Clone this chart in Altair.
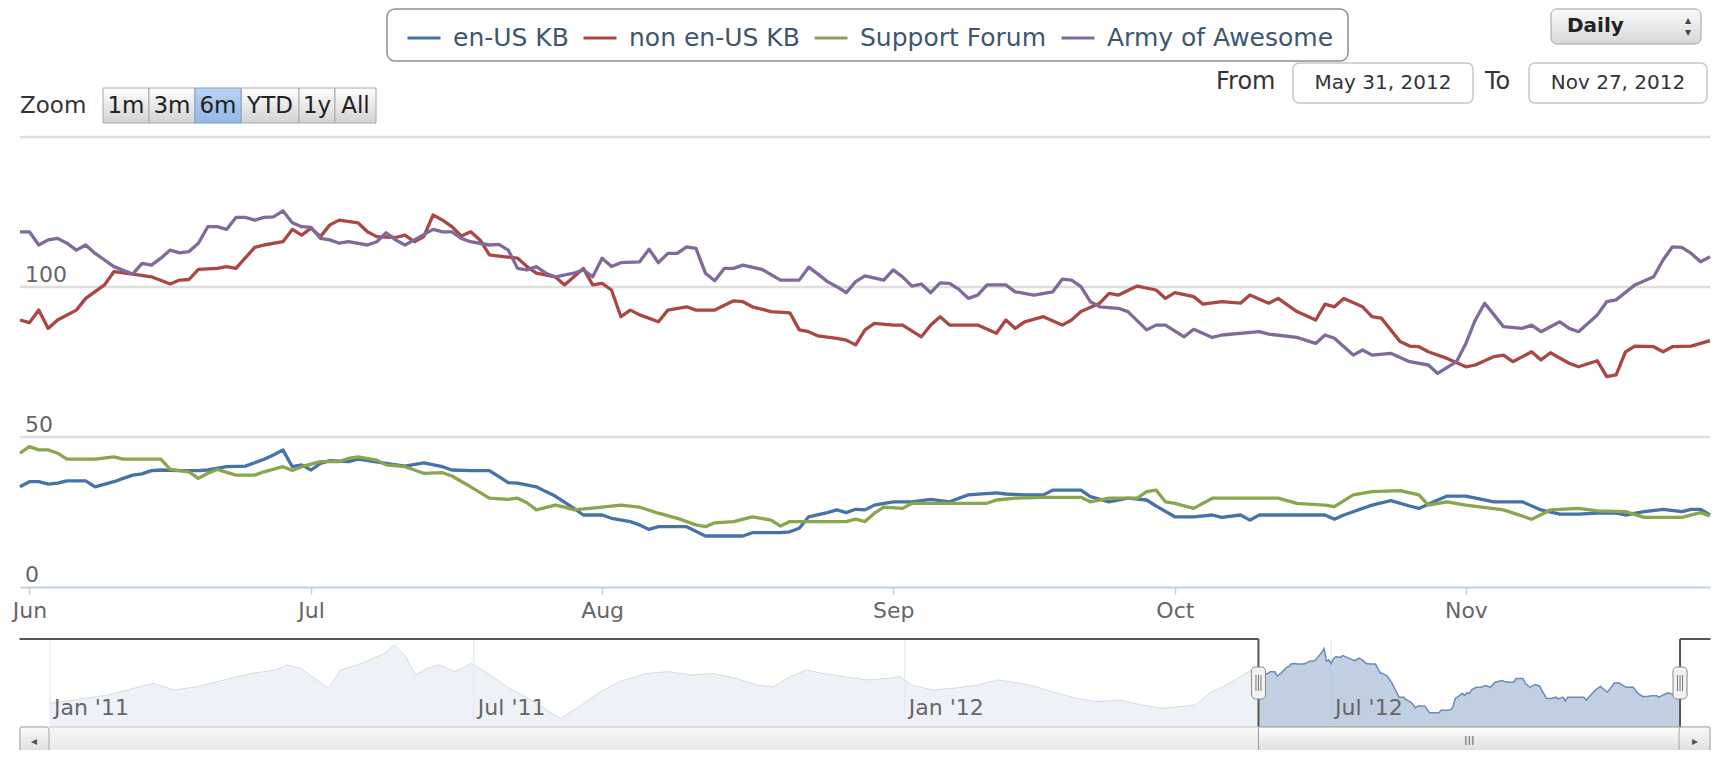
import altair as alt
import pandas as pd

FONT = "DejaVu Sans"
W, H = 1705, 742

# ---------------- data ----------------
SERIES = ["en-US KB", "non en-US KB", "Support Forum", "Army of Awesome"]
COLORS = ["#4572A7", "#AA4643", "#89A54E", "#80699B"]
START = pd.Timestamp("2012-05-31")

blue_days = [0, 1, 2, 3, 4, 5, 7, 8, 10, 11, 12, 13, 14, 15, 17, 19, 20, 22, 24, 25,
             26, 27, 28, 29, 30, 31, 32, 33, 35, 36, 39, 41, 43, 45, 46, 48, 50, 52, 53, 55,
             56, 57, 59, 60, 62, 63, 65, 66, 67, 68, 71, 73, 74, 77, 78, 81, 82, 83, 84, 86,
             87, 88, 89,
             90, 91, 93, 95, 97, 99, 101, 104, 105, 107, 109, 110, 113, 114, 116, 118, 120, 121, 123, 125,
             127, 128, 130, 131, 132, 135, 138, 139, 140, 141, 142, 144, 146, 148, 149, 151, 152, 154, 157, 160,
             162, 164, 166, 168, 170, 171, 173, 175, 177, 178, 179, 180]
blue_vals = [33.4, 35.1, 35.1, 34.3, 34.6, 35.4, 35.4, 33.4, 35.1, 36.2, 37.3, 37.7, 38.8, 39.0, 38.8, 38.8, 39.0, 40.1, 40.3, 41.4,
             42.6, 44.0, 45.7, 40.1, 40.7, 39.0, 41.2, 42.1, 41.8, 42.6, 41.2, 40.3, 41.4, 40.1, 39.0, 38.8, 38.8, 34.8, 34.6, 33.4,
             31.8, 30.3, 26.2, 24.0, 24.0, 22.9, 21.8, 20.7, 19.2, 20.1, 20.1, 17.0, 17.0, 17.0, 18.1, 18.1, 18.4, 19.6, 23.4, 24.8,
             25.7, 24.8, 25.9,
             25.7, 27.3, 28.4, 28.4, 29.2, 28.4, 30.7, 31.4, 31.0, 30.7, 30.7, 32.3, 32.3, 30.1, 28.4, 29.6, 29.0, 27.0, 23.4, 23.4,
             24.0, 23.2, 24.0, 22.3, 24.0, 24.0, 24.0, 24.0, 22.6, 24.0, 25.1, 27.3, 28.8, 27.0, 26.2, 29.0, 30.3, 30.3, 28.4, 28.4,
             25.7, 24.3, 24.3, 24.6, 24.6, 24.0, 25.1, 25.9, 25.1, 25.9, 25.9, 24.0]

red_days = [0, 1, 2, 3, 4, 6, 7, 9, 10, 12, 14, 16, 17, 18, 19, 21, 22, 23, 25, 26,
            28, 29, 30, 31, 32, 33, 34, 36, 37, 38, 40, 41, 42, 43, 44, 45, 46, 47, 48, 49,
            50, 51, 53, 54, 55, 57, 58, 59, 60, 61, 62, 63, 64, 65, 66, 68, 69, 71, 72, 74,
            76, 77, 78, 80, 82, 83, 84, 85, 87, 88, 89,
            90, 91, 93, 94, 96, 97, 98, 99, 102, 104, 105, 106, 107, 109, 111, 112, 113, 115, 116, 117,
            119, 121, 122, 123, 125, 126, 128, 130, 131, 133, 134, 136, 138, 139, 140, 141, 143, 144, 145, 147,
            148, 149, 150, 152, 154, 155, 157, 158, 159, 161, 162, 163, 165, 166, 168, 169, 170, 171, 172, 174,
            175, 176, 178, 179, 180]
red_vals = [89.0, 88.1, 92.3, 86.2, 89.0, 92.3, 96.2, 100.7, 105.1, 104.3, 103.4, 101.0, 102.3, 102.5, 105.9, 106.2, 106.8, 106.2, 113.2, 114.0,
            115.1, 119.2, 117.3, 119.6, 116.8, 120.7, 122.3, 121.4, 118.4, 116.8, 116.5, 117.3, 115.1, 116.8, 124.0, 122.3, 120.1, 117.0, 118.4, 115.7,
            110.7, 110.3, 109.6, 106.8, 104.6, 103.4, 100.7, 103.4, 106.2, 100.7, 101.2, 99.0, 90.1, 92.3, 90.7, 88.4, 92.3, 93.4, 92.3, 92.3,
            95.4, 95.1, 93.4, 91.8, 91.4, 85.7, 85.1, 83.7, 82.9, 82.3, 80.7,
            85.7, 87.9, 87.3, 87.3, 83.4, 87.3, 90.1, 87.3, 87.3, 84.6, 89.0, 86.2, 88.4, 90.1, 87.3, 89.0, 91.8, 94.6, 97.9, 97.3,
            100.3, 99.0, 96.2, 98.1, 96.8, 94.3, 95.1, 94.6, 97.3, 94.6, 96.2, 91.8, 89.0, 94.3, 93.4, 96.2, 93.4, 90.1, 89.6, 81.8,
            80.3, 80.1, 78.4, 76.2, 73.4, 74.0, 76.8, 77.3, 75.1, 78.4, 75.7, 78.1, 74.6, 73.4, 75.4, 70.1, 70.7, 78.4, 80.3, 80.1,
            78.4, 80.1, 80.3, 81.2, 82.1]

green_days = [0, 1, 2, 3, 4, 5, 6, 8, 10, 11, 13, 15, 16, 17, 18, 19, 20, 21, 23, 25,
              26, 28, 29, 30, 32, 34, 35, 36, 38, 39, 41, 43, 45, 46, 48, 50, 52, 53, 54, 55,
              57, 58, 59, 62, 64, 66, 68, 70, 72, 73, 74, 76, 78, 80, 81, 82, 86, 88, 89,
              90, 91, 92, 94, 95, 98, 101, 103, 104, 106, 109, 113, 114, 116, 119, 120, 121, 122, 123, 125,
              127, 130, 134, 136, 139, 140, 142, 144, 147, 149, 150, 152, 154, 158, 161, 163, 166, 168, 171, 173,
              175, 177, 179, 180]
green_vals = [44.6, 46.8, 45.7, 45.7, 44.6, 42.6, 42.6, 42.6, 43.4, 42.6, 42.6, 42.6, 39.2, 38.8, 38.4, 36.2, 37.9, 39.2, 37.3, 37.3,
              38.4, 40.1, 38.8, 40.1, 41.8, 41.8, 42.9, 43.4, 42.3, 40.7, 40.1, 37.9, 38.1, 37.0, 33.4, 29.6, 29.2, 29.6, 28.1, 25.7,
              27.3, 26.6, 25.7, 26.6, 27.3, 26.6, 24.6, 22.9, 20.7, 20.1, 21.4, 21.8, 23.4, 22.3, 20.3, 21.8, 21.8, 21.8, 22.6,
              21.8, 24.6, 26.6, 26.2, 27.9, 27.9, 27.9, 27.9, 29.0, 29.6, 29.9, 29.9, 28.4, 29.6, 29.6, 31.8, 32.3, 28.4, 27.9, 26.2,
              29.6, 29.6, 29.6, 27.9, 27.3, 26.8, 30.7, 31.8, 32.1, 30.7, 27.3, 28.4, 27.3, 25.7, 22.6, 25.7, 26.2, 25.4, 25.1, 23.2,
              23.2, 23.2, 24.8, 23.7]

purple_days = [0, 1, 2, 3, 4, 5, 6, 7, 8, 9, 10, 12, 13, 14, 15, 16, 17, 18, 19, 20,
               21, 22, 23, 24, 25, 26, 27, 28, 29, 30, 31, 32, 33, 34, 35, 37, 38, 39, 40, 41,
               42, 44, 45, 46, 47, 48, 50, 51, 52, 53, 54, 55, 56, 57, 59, 60, 61, 62, 63, 64,
               66, 67, 68, 69, 70, 71, 72, 73, 74, 75, 76, 77, 79, 81, 83, 84, 85, 86, 87, 88, 89,
               90, 92, 93, 94, 95, 96, 97, 98, 99, 100, 101, 102, 103, 105, 106, 108, 110, 111, 112, 113,
               114, 115, 117, 118, 120, 121, 122, 124, 125, 127, 128, 132, 133, 136, 138, 139, 140, 142, 143, 144,
               146, 148, 150, 151, 153, 154, 155, 156, 157, 158, 160, 161, 162, 164, 165, 166, 168, 169, 170, 172,
               174, 175, 176, 177, 178, 179, 180]
purple_vals = [118.4, 118.4, 114.0, 115.7, 116.2, 114.6, 112.3, 114.0, 111.2, 109.0, 106.8, 104.3, 107.9, 107.3, 109.6, 112.3, 111.4, 111.8, 114.6, 120.1,
               120.1, 119.2, 123.2, 123.2, 122.3, 123.2, 123.4, 125.4, 121.4, 120.1, 119.9, 116.2, 115.7, 114.6, 115.1, 114.0, 115.1, 118.1, 115.7, 114.0,
               115.7, 119.2, 118.4, 118.4, 116.2, 115.1, 114.0, 114.2, 112.3, 106.2, 105.7, 106.8, 104.6, 103.4, 104.6, 105.7, 103.4, 109.6, 106.8, 108.1,
               108.4, 112.6, 108.1, 111.2, 111.2, 113.4, 112.9, 104.6, 102.1, 106.2, 106.2, 107.3, 105.9, 102.3, 102.3, 106.6, 104.3, 101.8, 100.1, 98.1, 101.8,
               103.7, 102.3, 105.7, 103.4, 100.3, 101.0, 98.1, 101.4, 101.2, 99.2, 96.2, 97.3, 100.7, 100.7, 98.4, 97.3, 98.4, 102.6, 102.3, 100.1,
               95.1, 93.4, 92.9, 91.8, 85.7, 87.3, 87.3, 83.4, 85.9, 83.2, 84.0, 85.1, 84.3, 83.2, 81.2, 84.0, 82.9, 77.3, 79.0, 77.3,
               77.9, 75.1, 74.0, 71.2, 75.1, 81.2, 89.0, 94.6, 90.7, 86.8, 86.2, 87.3, 85.1, 88.4, 86.2, 85.1, 90.7, 95.1, 95.7, 100.7,
               103.4, 109.0, 113.4, 113.2, 111.2, 108.4, 110.1]

# navigator: en-US KB history before the selected range
nav_dates = ["2011-01-01", "2011-01-26", "2011-02-14", "2011-02-23", "2011-03-05", "2011-03-19", "2011-03-28",
             "2011-04-07", "2011-04-12", "2011-04-18", "2011-04-27", "2011-04-30", "2011-05-05", "2011-05-14",
             "2011-05-24", "2011-05-28", "2011-06-02", "2011-06-06", "2011-06-11", "2011-06-16", "2011-06-23",
             "2011-06-30", "2011-07-07", "2011-07-16", "2011-07-23", "2011-07-30", "2011-08-07", "2011-08-14",
             "2011-08-23", "2011-09-01", "2011-09-13", "2011-09-22", "2011-10-02", "2011-10-11", "2011-10-21",
             "2011-10-30", "2011-11-06", "2011-11-13", "2011-11-20", "2011-11-27", "2011-12-06", "2011-12-16",
             "2011-12-25", "2011-12-30", "2012-01-04", "2012-01-13", "2012-01-22", "2012-02-01", "2012-02-10",
             "2012-02-19", "2012-02-26", "2012-03-04", "2012-03-14", "2012-03-23", "2012-04-02", "2012-04-11",
             "2012-04-20", "2012-04-27", "2012-05-04", "2012-05-11", "2012-05-16", "2012-05-21", "2012-05-28"]
nav_vals = [21.2, 25.0, 30.2, 27.2, 28.7, 32.4, 34.6, 36.1, 38.4, 36.9, 30.2, 28.0, 36.1, 39.1,
            43.6, 47.3, 42.1, 33.9, 36.9, 38.4, 35.4, 39.1, 34.6, 28.0, 24.2, 19.7, 14.5, 19.0,
            25.7, 30.9, 34.6, 35.4, 33.9, 34.6, 32.4, 29.4, 28.7, 33.2, 36.1, 34.6, 33.2, 31.7,
            32.4, 33.2, 29.4, 27.2, 28.0, 29.4, 31.7, 30.2, 28.7, 26.4, 23.5, 22.0, 22.7, 20.5,
            19.0, 19.7, 20.5, 26.4, 28.7, 31.7, 36.1]

y_grid = [50, 100, 150]
y_labels = [0, 50, 100]
nav_ticks = ["2011-01-01", "2011-07-01", "2012-01-01", "2012-07-01"]
btn_labels = ["1m", "3m", "6m", "YTD", "1y", "All"]
sel_from, sel_to = "2012-05-31", "2012-11-27"

# ---------------- layout (pixels) ----------------
X0, X1 = 12, 1702
btn_edges = [95, 141, 187, 233, 291, 327, 368]
BTN_SELECTED = "6m"

def iso(s):
    return pd.Timestamp(s).strftime("%Y-%m-%dT%H:%M:%S")

def day_rows(name, days, vals):
    return [{"date": iso(START + pd.Timedelta(days=d)), "value": v, "series": name}
            for d, v in zip(days, vals)]

main_rows = (day_rows(SERIES[0], blue_days, blue_vals) + day_rows(SERIES[1], red_days, red_vals)
             + day_rows(SERIES[2], green_days, green_vals) + day_rows(SERIES[3], purple_days, purple_vals))
main_df = pd.DataFrame(main_rows)

hist_df = pd.DataFrame({"date": [iso(d) for d in nav_dates], "value": nav_vals})
sel_df = pd.DataFrame(day_rows("nav", blue_days, blue_vals))[["date", "value"]]
light_df = pd.concat([hist_df, sel_df.iloc[:1]], ignore_index=True)

ONE = alt.Data(values=[{"k": 0}])

def dt(y, m, d, h=0):
    return alt.DateTime(year=y, month=m, date=d, hours=h)

main_x = alt.Scale(domain=[dt(2012, 5, 31), dt(2012, 11, 27)], range=[X0, X1], nice=False)
main_y = alt.Scale(domain=[0, 150], range=[579, 129], zero=False, nice=False)
nav_x = alt.Scale(domain=[dt(2010, 12, 19, 5), dt(2012, 12, 9, 19)], range=[X0, X1], nice=False)
nav_y = alt.Scale(domain=[12, 50], range=[716, 631], zero=False, nice=False)

def grad(c0, c1):
    return alt.Gradient(gradient="linear", x1=0, x2=0, y1=0, y2=1,
                        stops=[alt.GradientStop(color=c0, offset=0), alt.GradientStop(color=c1, offset=1)])

def box(x0, x1, y0, y1, **kw):
    return alt.Chart(ONE).mark_rect(**kw).encode(
        x=alt.value(x0), x2=alt.value(x1), y=alt.value(y0), y2=alt.value(y1))

def txt(s, x, y, size, color="#333333", align="left", weight="normal"):
    return alt.Chart(ONE).mark_text(text=s, align=align, baseline="middle", font=FONT,
                                    fontSize=size, color=color, fontWeight=weight).encode(
        x=alt.value(x), y=alt.value(y))

layers = []

# --- legend frame ---
layers.append(box(379, 1340, 1, 53, fill="white", stroke="#909090", strokeWidth=1.5, cornerRadius=8))

# --- range selector ---
layers.append(txt("Zoom", 12, 98, 23))
btn_df = pd.DataFrame({"label": btn_labels, "x0": btn_edges[:-1], "x1": btn_edges[1:]})
btn_df["xc"] = (btn_df["x0"] + btn_df["x1"]) / 2
layers.append(alt.Chart(btn_df[btn_df.label != BTN_SELECTED]).mark_rect(
    fill=grad("#FFFFFF", "#D2D2D2"), stroke="#A8A8A8", strokeWidth=1).encode(
    x=alt.X("x0:Q", scale=None, axis=None), x2="x1:Q", y=alt.value(80), y2=alt.value(115)))
layers.append(alt.Chart(btn_df[btn_df.label == BTN_SELECTED]).mark_rect(
    fill=grad("#B9D3F3", "#94B8E6"), stroke="#7F9FCB", strokeWidth=1).encode(
    x=alt.X("x0:Q", scale=None, axis=None), x2="x1:Q", y=alt.value(80), y2=alt.value(115)))
layers.append(alt.Chart(btn_df).mark_text(font=FONT, fontSize=23, color="#222222", baseline="middle").encode(
    x=alt.X("xc:Q", scale=None, axis=None), y=alt.value(98), text="label:N"))

# --- "Daily" select ---
layers.append(box(1543, 1693, 1, 36, fill=grad("#FAFAFA", "#D8D8D8"), stroke="#A0A0A0", strokeWidth=1, cornerRadius=6))
layers.append(txt("Daily", 1559, 18, 20, color="#222222", weight="bold"))
layers.append(txt("\u25B4", 1680, 12, 12, color="#444444", align="center"))
layers.append(txt("\u25BE", 1680, 24, 12, color="#444444", align="center"))

# --- From / To inputs ---
layers.append(txt("From", 1208, 74, 24))
layers.append(box(1285, 1465, 55, 95, fill="white", stroke="#C8C8C8", strokeWidth=1.5, cornerRadius=6))
layers.append(txt("May 31, 2012", 1375, 75, 20, align="center"))
layers.append(txt("To", 1477, 74, 24))
layers.append(box(1521, 1699, 55, 95, fill="white", stroke="#C8C8C8", strokeWidth=1.5, cornerRadius=6))
layers.append(txt("Nov 27, 2012", 1610, 75, 20, align="center"))

# --- main plot grid & y labels ---
layers.append(alt.Chart(pd.DataFrame({"v": y_grid})).mark_rule(color="#DEDEDE", strokeWidth=2.5).encode(
    y=alt.Y("v:Q", scale=main_y, axis=None), x=alt.value(X0), x2=alt.value(X1)))
layers.append(alt.Chart(pd.DataFrame({"v": y_labels})).mark_text(
    align="left", baseline="alphabetic", dy=-5, font=FONT, fontSize=22, color="#666666").encode(
    y=alt.Y("v:Q", scale=main_y, axis=None), x=alt.value(17), text="v:Q"))

# --- main series ---
x_axis = alt.Axis(values=[dt(2012, m, 1) for m in range(6, 12)], format="%b", title=None, grid=False,
                  offset=579 - H, domainColor="#C0D0E0", domainWidth=2, tickColor="#C0D0E0",
                  tickSize=7, tickWidth=1.5, labelFont=FONT, labelFontSize=22, labelColor="#666666",
                  labelPadding=6, labelFlush=False)
legend = alt.Legend(title=None, orient="none", legendX=398, legendY=12, direction="horizontal", columns=4,
                    symbolType="stroke", symbolSize=1089, symbolStrokeWidth=3, labelFont=FONT,
                    labelFontSize=25, labelColor="#3E576F", labelLimit=400, labelOffset=11,
                    columnPadding=8, padding=0)
layers.append(alt.Chart(main_df).mark_line(strokeWidth=3.3, strokeJoin="round").encode(
    x=alt.X("date:T", scale=main_x, axis=x_axis),
    y=alt.Y("value:Q", scale=main_y, axis=None),
    color=alt.Color("series:N", scale=alt.Scale(domain=SERIES, range=COLORS), legend=legend),
))

# --- navigator ---
layers.append(alt.Chart(pd.DataFrame({"d": [iso(d) for d in nav_ticks]})).mark_rule(
    color="#E4E4E4", strokeWidth=1).encode(
    x=alt.X("d:T", scale=nav_x, axis=None), y=alt.value(631), y2=alt.value(716)))
layers.append(alt.Chart(light_df).mark_area(color="#E7ECF3", line=alt.OverlayMarkDef(color="#D3DCE8", strokeWidth=1)).encode(
    x=alt.X("date:T", scale=nav_x, axis=None), y=alt.Y("value:Q", scale=nav_y, axis=None), y2=alt.value(716)))
layers.append(alt.Chart(sel_df).mark_area(color="#A7BBD7", line=alt.OverlayMarkDef(color="#6A8BBA", strokeWidth=1.5)).encode(
    x=alt.X("date:T", scale=nav_x, axis=None), y=alt.Y("value:Q", scale=nav_y, axis=None), y2=alt.value(716)))
layers.append(alt.Chart(pd.DataFrame({"d": [iso(d) for d in nav_ticks]})).mark_text(
    align="left", baseline="alphabetic", dx=4, font=FONT, fontSize=22, color="#666666").encode(
    x=alt.X("d:T", scale=nav_x, axis=None), y=alt.value(707), text=alt.Text("d:T", format="%b '%y")))

# navigator outline
outline_df = pd.DataFrame({"a": [iso("2010-12-19"), iso(sel_to)], "b": [iso(sel_from), iso("2012-12-10")]})
layers.append(alt.Chart(outline_df).mark_rule(color="#555555", strokeWidth=2).encode(
    x=alt.X("a:T", scale=nav_x, axis=None), x2="b:T", y=alt.value(631)))
edges_df = pd.DataFrame({"d": [iso(sel_from), iso(sel_to)]})
layers.append(alt.Chart(edges_df).mark_rule(color="#555555", strokeWidth=2).encode(
    x=alt.X("d:T", scale=nav_x, axis=None), y=alt.value(631), y2=alt.value(719)))

# --- scrollbar ---
layers.append(box(X0, X1, 719, 747, fill=grad("#F6F6F6", "#E6E6E6"), stroke="#C4C4C4", strokeWidth=1))
layers.append(alt.Chart(pd.DataFrame({"a": [iso(sel_from)], "b": [iso(sel_to)]})).mark_rect(
    fill=grad("#FFFFFF", "#D8D8D8"), stroke="#999999", strokeWidth=1, cornerRadius=2).encode(
    x=alt.X("a:T", scale=nav_x, axis=None), x2="b:T", y=alt.value(719), y2=alt.value(747)))
mid = pd.Timestamp(sel_from) + (pd.Timestamp(sel_to) - pd.Timestamp(sel_from)) / 2
layers.append(alt.Chart(pd.DataFrame({"d": [iso(mid)]})).mark_text(
    text="III", font=FONT, fontSize=12, color="#777777", baseline="middle").encode(
    x=alt.X("d:T", scale=nav_x, axis=None), y=alt.value(733)))
layers.append(box(X0, X0 + 29, 719, 747, fill=grad("#FAFAFA", "#DADADA"), stroke="#A8A8A8", strokeWidth=1, cornerRadius=3))
layers.append(box(X1 - 31, X1, 719, 747, fill=grad("#FAFAFA", "#DADADA"), stroke="#A8A8A8", strokeWidth=1, cornerRadius=3))
layers.append(txt("\u25C2", X0 + 14, 733, 12, color="#555555", align="center"))
layers.append(txt("\u25B8", X1 - 15, 733, 12, color="#555555", align="center"))

# --- navigator handles ---
layers.append(alt.Chart(edges_df).mark_rect(xOffset=-7, x2Offset=7, fill="#F2F2F2", stroke="#8A8A8A",
                                           strokeWidth=1, cornerRadius=4).encode(
    x=alt.X("d:T", scale=nav_x, axis=None), x2="d:T", y=alt.value(659), y2=alt.value(691)))
for off in (-2.5, 0, 2.5):
    layers.append(alt.Chart(edges_df).mark_rule(xOffset=off, color="#777777", strokeWidth=1).encode(
        x=alt.X("d:T", scale=nav_x, axis=None), y=alt.value(667), y2=alt.value(683)))

chart = alt.layer(*layers).resolve_scale(x="independent", y="independent").properties(
    width=W, height=H, padding=0, autosize=alt.AutoSizeParams(type="none"),
).configure_view(strokeWidth=0)

chart.save("out.html", embed_options={"renderer": "svg", "actions": False})
